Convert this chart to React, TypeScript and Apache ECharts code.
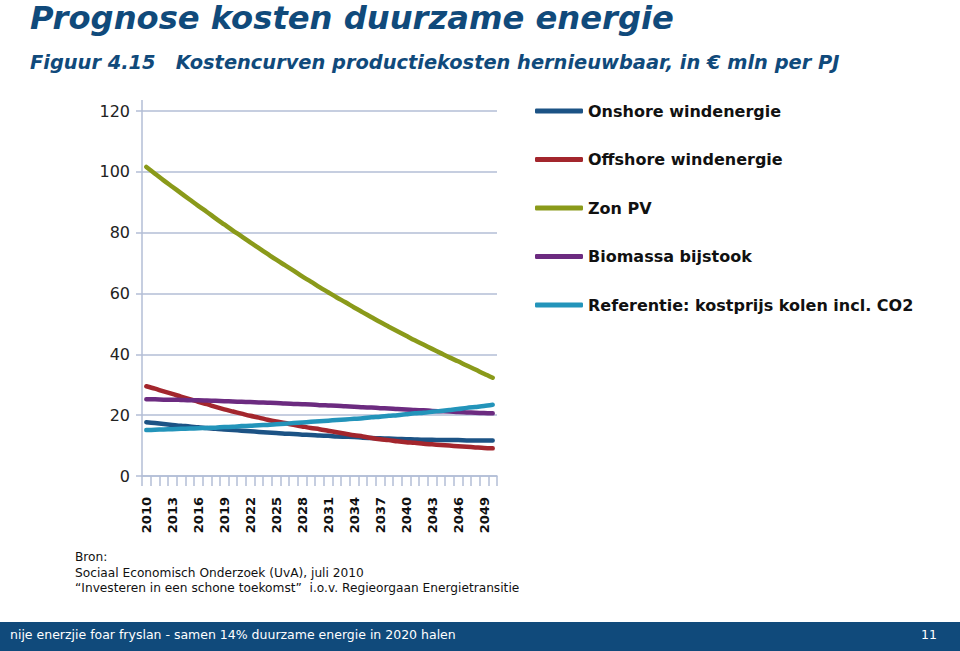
import React, { useEffect, useRef } from "react";
import * as echarts from "echarts";

const years = [
  "2010", "2011", "2012", "2013", "2014", "2015", "2016", "2017", "2018", "2019",
  "2020", "2021", "2022", "2023", "2024", "2025", "2026", "2027", "2028", "2029",
  "2030", "2031", "2032", "2033", "2034", "2035", "2036", "2037", "2038", "2039",
  "2040", "2041", "2042", "2043", "2044", "2045", "2046", "2047", "2048", "2049",
  "2050",
];

const onshore = [
  17.7, 17.4, 17.1, 16.8, 16.5, 16.3, 16.0, 15.8, 15.5, 15.3,
  15.1, 14.9, 14.7, 14.5, 14.3, 14.1, 13.9, 13.8, 13.6, 13.5,
  13.3, 13.2, 13.0, 12.9, 12.8, 12.6, 12.5, 12.4, 12.3, 12.2,
  12.1, 12.0, 11.9, 11.9, 11.8, 11.8, 11.8, 11.7, 11.7, 11.7,
  11.7,
];

const offshore = [
  29.5, 28.7, 27.8, 27.0, 26.1, 25.3, 24.4, 23.6, 22.7, 21.9,
  21.2, 20.5, 19.8, 19.2, 18.5, 17.9, 17.4, 16.8, 16.3, 15.8,
  15.4, 14.9, 14.4, 13.9, 13.4, 13.0, 12.5, 12.1, 11.8, 11.4,
  11.1, 10.9, 10.6, 10.4, 10.2, 10.0, 9.8, 9.6, 9.4, 9.2,
  9.1,
];

const zonPV = [
  101.6, 99.4, 97.2, 95.1, 93.0, 90.9, 88.8, 86.8, 84.7, 82.7,
  80.7, 78.8, 76.8, 74.9, 73.0, 71.1, 69.3, 67.5, 65.6, 63.9,
  62.1, 60.4, 58.7, 57.1, 55.4, 53.8, 52.2, 50.6, 49.1, 47.6,
  46.1, 44.6, 43.2, 41.8, 40.4, 39.0, 37.7, 36.3, 35.0, 33.6,
  32.3,
];

const biomassa = [
  25.2, 25.2, 25.1, 25.1, 25.0, 24.9, 24.9, 24.8, 24.7, 24.6,
  24.5, 24.4, 24.3, 24.2, 24.1, 24.0, 23.8, 23.7, 23.6, 23.5,
  23.3, 23.2, 23.1, 22.9, 22.8, 22.6, 22.5, 22.3, 22.2, 22.0,
  21.9, 21.7, 21.6, 21.4, 21.3, 21.2, 21.0, 20.9, 20.8, 20.7,
  20.6,
];

const referentie = [
  15.1, 15.2, 15.3, 15.4, 15.5, 15.6, 15.7, 15.8, 15.9, 16.1,
  16.2, 16.4, 16.5, 16.7, 16.8, 17.0, 17.2, 17.4, 17.6, 17.8,
  18.0, 18.2, 18.4, 18.6, 18.8, 19.0, 19.3, 19.5, 19.8, 20.0,
  20.3, 20.6, 20.8, 21.1, 21.4, 21.7, 22.0, 22.4, 22.7, 23.0,
  23.4,
];

const seriesNames = [
  "Onshore windenergie",
  "Offshore windenergie",
  "Zon PV",
  "Biomassa bijstook",
  "Referentie: kostprijs kolen incl. CO2",
];
const seriesColors = ["#1c5385", "#a3262d", "#8a9a1a", "#6c2b80", "#2394ba"];
const seriesData = [onshore, offshore, zonPV, biomassa, referentie];

const titleText = "Prognose kosten duurzame energie";
const subtitleText = "Figuur 4.15   Kostencurven productiekosten hernieuwbaar, in € mln per PJ";
const sourceLines = [
  "Bron:",
  "Sociaal Economisch Onderzoek (UvA), juli 2010",
  "“Investeren in een schone toekomst”  i.o.v. Regieorgaan Energietransitie",
];
const footerText = "nije enerzjie foar fryslan - samen 14% duurzame energie in 2020 halen";
const pageNumber = "11";

const FONT = "'DejaVu Sans', Verdana, sans-serif";
const GRID_COLOR = "#b3bed6";
const DARK_BLUE = "#104a7b";

export default function App() {
  const ref = useRef<HTMLDivElement>(null);

  useEffect(() => {
    if (!ref.current) return;
    const chart = echarts.init(ref.current, null, { renderer: "svg" });
    chart.setOption({
      animation: false,
      backgroundColor: "#ffffff",
      textStyle: { fontFamily: FONT },
      grid: { left: 142, right: 463, top: 111, bottom: 175, containLabel: false },
      legend: {
        orient: "vertical",
        left: 530,
        top: 96,
        icon: "roundRect",
        itemWidth: 48,
        itemHeight: 5,
        itemGap: 28.5,
        data: seriesNames,
        textStyle: {
          fontFamily: FONT,
          fontWeight: "bold",
          fontSize: 16,
          lineHeight: 20,
          color: "#111111",
          padding: [0, 0, 0, 0],
        },
      },
      xAxis: {
        type: "category",
        data: years,
        boundaryGap: true,
        axisLine: { show: true, lineStyle: { color: GRID_COLOR, width: 1.5 } },
        axisTick: { show: true, interval: 0, length: 10, lineStyle: { color: GRID_COLOR, width: 1.5 } },
        axisLabel: {
          interval: 2,
          rotate: 90,
          margin: 21,
          fontFamily: FONT,
          fontWeight: "bold",
          fontSize: 13,
          color: "#111111",
        },
        splitLine: { show: false },
      },
      yAxis: {
        type: "value",
        min: 0,
        max: 120,
        interval: 20,
        axisLine: { show: true, lineStyle: { color: GRID_COLOR, width: 1.5 } },
        axisTick: { show: true, length: 6, lineStyle: { color: GRID_COLOR, width: 1.5 } },
        axisLabel: { margin: 12, fontFamily: FONT, fontSize: 16, color: "#222222" },
        splitLine: { show: true, lineStyle: { color: GRID_COLOR, width: 1.5 } },
      },
      series: seriesNames.map((name, i) => ({
        name,
        type: "line",
        data: seriesData[i],
        symbol: "none",
        showSymbol: false,
        smooth: 0.3,
        color: seriesColors[i],
        itemStyle: { color: seriesColors[i] },
        lineStyle: { color: seriesColors[i], width: 4.5, cap: "round", join: "round" },
        z: 2 + i,
      })),
      graphic: [
        {
          type: "line",
          shape: { x1: 142, y1: 100, x2: 142, y2: 111 },
          style: { stroke: GRID_COLOR, lineWidth: 1.5 },
        },
        {
          type: "text",
          x: 30,
          y: 17.5,
          style: {
            text: titleText,
            fontFamily: FONT,
            fontStyle: "italic",
            fontWeight: "bold",
            fontSize: 32.2,
            lineHeight: 31,
            fill: DARK_BLUE,
            textVerticalAlign: "middle",
          },
        },
        {
          type: "text",
          x: 30,
          y: 62,
          style: {
            text: subtitleText,
            font: `italic bold 19.4px ${FONT}`,
            fill: DARK_BLUE,
            textVerticalAlign: "middle",
          },
        },
        ...sourceLines.map((line, i) => ({
          type: "text",
          x: 75,
          y: 557 + i * 15.5,
          style: {
            text: line,
            font: `12.2px ${FONT}`,
            fill: "#111111",
            textVerticalAlign: "middle",
          },
        })),
        {
          type: "rect",
          shape: { x: 0, y: 622, width: 960, height: 29 },
          style: { fill: DARK_BLUE },
        },
        {
          type: "text",
          x: 10,
          y: 634,
          style: {
            text: footerText,
            font: `12.5px ${FONT}`,
            fill: "#ffffff",
            textVerticalAlign: "middle",
          },
        },
        {
          type: "text",
          x: 937,
          y: 634,
          style: {
            text: pageNumber,
            font: `12.5px ${FONT}`,
            fill: "#ffffff",
            textAlign: "right",
            textVerticalAlign: "middle",
          },
        },
      ],
    });
    return () => chart.dispose();
  }, []);

  return (
    <div
      ref={ref}
      style={{ position: "fixed", left: 0, top: 0, width: 960, height: 651, background: "#fff" }}
    />
  );
}
